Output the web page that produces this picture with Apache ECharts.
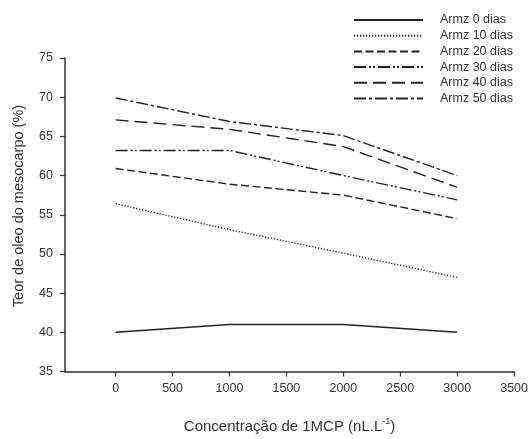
<!DOCTYPE html>
<html><head><meta charset="utf-8">
<script src="https://cdn.jsdelivr.net/npm/echarts@6/dist/echarts.min.js"></script>
<style>html,body{margin:0;padding:0;background:#fff}#c{width:531px;height:439px}</style>
</head><body><div id="c"></div>
<script>
const xValues = [0, 1000, 2000, 3000];
const seriesNames = ['Armz 0 dias','Armz 10 dias','Armz 20 dias','Armz 30 dias','Armz 40 dias','Armz 50 dias'];
const armz0  = [40.0, 41.0, 41.0, 40.0];
const armz10 = [56.4, 53.1, 50.1, 47.0];
const armz20 = [60.9, 58.9, 57.5, 54.5];
const armz30 = [63.2, 63.2, 60.0, 56.9];
const armz40 = [67.1, 65.9, 63.7, 58.5];
const armz50 = [69.9, 66.9, 65.1, 60.0];
const xTickLabels = [0, 500, 1000, 1500, 2000, 2500, 3000, 3500];
const yTickLabels = [35, 40, 45, 50, 55, 60, 65, 70, 75];

const allValues = [armz0, armz10, armz20, armz30, armz40, armz50];
const dashTypes = ['solid', [1.2, 1.8], [8, 3.5], [12, 3, 2, 2, 2, 3], [13, 6], [12, 3, 3, 3]];
const ink = '#222';
const ff = 'Liberation Sans, Arial, sans-serif';

const chart = echarts.init(document.getElementById('c'), null, {renderer: 'canvas'});
chart.setOption({
  animation: false,
  backgroundColor: '#fff',
  textStyle: {fontFamily: ff},
  grid: {left: 65, right: 14, top: 58, bottom: 56, containLabel: false},
  legend: {
    orient: 'vertical', left: 348, top: 8,
    itemWidth: 69, itemHeight: 14, itemGap: 1.7,
    itemStyle: {opacity: 0},
    textStyle: {fontSize: 12.5, color: '#333', lineHeight: 14, padding: [0, 0, 0, 12], fontFamily: ff},
    data: seriesNames
  },
  xAxis: {
    type: 'value', min: -445, max: 3500,
    axisLine: {show: true, onZero: false, lineStyle: {color: '#333', width: 1.5}},
    axisTick: {show: true, length: 5, customValues: xTickLabels, lineStyle: {color: '#333', width: 1.2}},
    axisLabel: {customValues: xTickLabels, fontSize: 12.5, color: '#333', margin: 11,
      formatter: v => String(v)},
    splitLine: {show: false},
    name: '{t|Concentração de 1MCP (nL.L}{s|-1}{t|)}',
    nameLocation: 'middle', nameGap: 46,
    nameTextStyle: {
      rich: {
        t: {fontSize: 15, color: '#333', fontFamily: ff},
        s: {fontSize: 9, color: '#333', verticalAlign: 'top', padding: [0, 0, 9, 0], fontFamily: ff}
      }
    }
  },
  yAxis: {
    type: 'value', min: 35, max: 75, interval: 5,
    axisLine: {show: true, onZero: false, lineStyle: {color: '#333', width: 1.5}},
    axisTick: {show: true, length: 5, lineStyle: {color: '#333', width: 1.2}},
    axisLabel: {fontSize: 12.5, color: '#333', margin: 12},
    splitLine: {show: false}
  },
  graphic: [{
    type: 'text', x: 19, y: 206, rotation: Math.PI / 2,
    style: {text: 'Teor de oleo do mesocarpo (%)', fontSize: 14.5, fill: '#333',
      align: 'center', verticalAlign: 'middle', fontFamily: ff}
  }],
  series: allValues.map((vals, i) => ({
    name: seriesNames[i],
    type: 'line',
    symbol: 'none',
    data: xValues.map((x, j) => [x, vals[j]]),
    lineStyle: {color: ink, width: 1.4, type: dashTypes[i]},
    itemStyle: {color: ink}
  }))
});
</script></body></html>
